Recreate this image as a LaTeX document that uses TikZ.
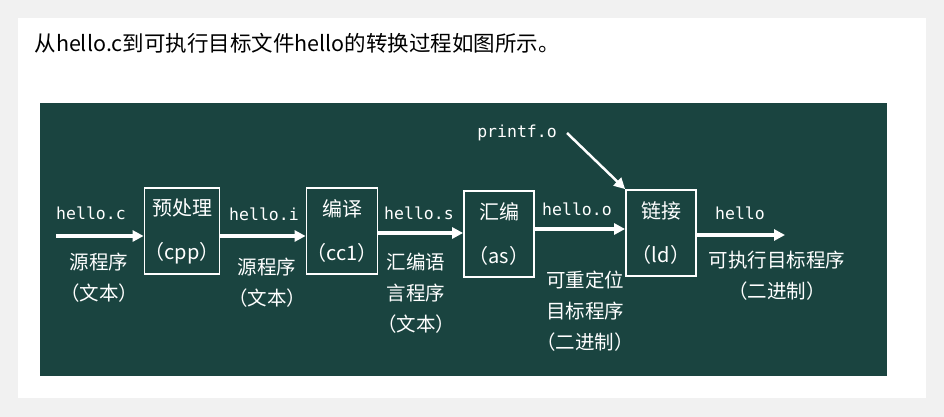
\documentclass[tikz,border=0pt]{standalone}
\usepackage{fontspec}
\usetikzlibrary{arrows.meta,positioning,calc}
\newfontfamily\cjk{Noto Sans CJK SC}
\setmonofont{DejaVu Sans Mono}
\definecolor{Board}{HTML}{1A4440}
\definecolor{Page}{HTML}{F1F1F1}

\begin{document}
\begin{tikzpicture}[x=1pt,y=-1pt,
  stage/.style={draw=white,line width=1.8pt,minimum width=70pt,minimum height=86pt,
    inner sep=0pt,align=center,text=white,font=\cjk\fontsize{20}{44}\selectfont},
  fname/.style={text=white,font=\ttfamily\fontsize{16.5}{20}\selectfont},
  note/.style={text=white,align=center,font=\cjk\fontsize{19.5}{31}\selectfont},
  flow/.style={draw=white,line width=3.5pt,-{Triangle[length=11pt,width=11pt]}}]
\useasboundingbox (0,0) rectangle (944,417);
\fill[Page] (0,0) rectangle (944,417);
\fill[white] (18,18) rectangle (926,398);
\node[anchor=west,font=\cjk\fontsize{21.5}{24}\selectfont] (title) at (31,43)
  {从hello.c到可执行目标文件hello的转换过程如图所示。};
\fill[Board] (40,103) rectangle (887,376);
% stages
\node[stage] (cpp) at (182,231) {预处理\\（cpp）};
\node[stage] (cc) at (342,231) {编译\\（cc1）};
\node[stage] (as) at (499,234) {汇编\\（as）};
\node[stage] (ld) at (661,233) {链接\\（ld）};
% arrows
\coordinate (src) at (56,236);
\coordinate (s1) at ($(cpp.east)+(0,5)$);
\coordinate (s2) at ($(cc.east)+(0,2)$);
\coordinate (s3) at ($(as.east)+(0,-5)$);
\coordinate (out) at (785,235);
\coordinate (lib) at (567,133);
\draw[flow] (src) -- (src -| cpp.west);
\draw[flow] (s1) -- (s1 -| cc.west);
\draw[flow] (s2) -- (s2 -| as.west);
\draw[flow] (s3) -- (s3 -| ld.west);
\draw[flow] (ld.east |- out) -- (out);
\draw[flow,line width=2.5pt] (lib) -- (ld.north west);
% labels
\node[fname] (fc) at (91,213) {hello.c};
\node[fname] (fi) at (264,214) {hello.i};
\node[fname] (fs) at (419,213) {hello.s};
\node[fname] (fo) at (577,209) {hello.o};
\node[fname] (fx) at (740,213) {hello};
\node[fname] (fp) at (517,133) {printf.o};
\node[note] (nc) at (99,278) {源程序\\（文本）};
\node[note] (ni) at (267,283) {源程序\\（文本）};
\node[note] (ns) at (416,293) {汇编语\\言程序\\（文本）};
\node[note] (no) at (585,311) {可重定位\\目标程序\\（二进制）};
\node[note] (nx) at (777,276) {可执行目标程序\\（二进制）};
\end{tikzpicture}
\end{document}
